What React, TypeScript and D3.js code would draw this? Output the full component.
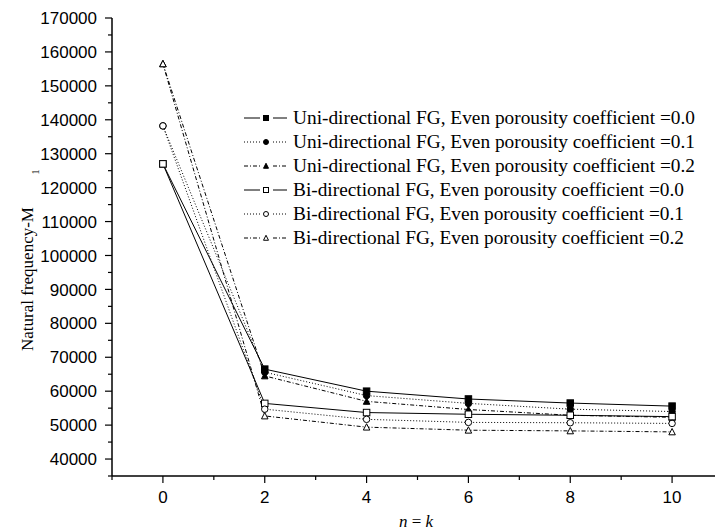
import React from "react";
import * as d3 from "d3";

const xs = [0, 2, 4, 6, 8, 10];
const uni00 = [127000, 66500, 60000, 57700, 56500, 55600];
const uni01 = [138200, 65600, 58700, 56400, 54700, 54000];
const uni02 = [156500, 64500, 57000, 54600, 52900, 52300];
const bi00 = [127000, 56400, 53700, 53200, 52900, 52500];
const bi01 = [138200, 54700, 51700, 50800, 50700, 50500];
const bi02 = [156500, 52700, 49400, 48500, 48300, 48000];

const legendLabels = [
  "Uni-directional FG, Even porousity coefficient =0.0",
  "Uni-directional FG, Even porousity coefficient =0.1",
  "Uni-directional FG, Even porousity coefficient =0.2",
  "Bi-directional FG, Even porousity coefficient =0.0",
  "Bi-directional FG, Even porousity coefficient =0.1",
  "Bi-directional FG, Even porousity coefficient =0.2",
];
const xTicks = [0, 2, 4, 6, 8, 10];
const yTicks = d3.range(40000, 170001, 10000);

type Series = { values: number[]; dash: string; marker: string; filled: boolean };
const series: Series[] = [
  { values: uni00, dash: "none", marker: "square", filled: true },
  { values: uni01, dash: "1,2", marker: "circle", filled: true },
  { values: uni02, dash: "4,2,1,2", marker: "triangle", filled: true },
  { values: bi00, dash: "none", marker: "square", filled: false },
  { values: bi01, dash: "1,2", marker: "circle", filled: false },
  { values: bi02, dash: "4,2,1,2", marker: "triangle", filled: false },
];

function Marker({ type, cx, cy, filled, s }: { type: string; cx: number; cy: number; filled: boolean; s: number }) {
  const fill = filled ? "#000" : "#fff";
  const props = { fill, stroke: "#000", strokeWidth: 1 };
  if (type === "square") return <rect x={cx - s / 2} y={cy - s / 2} width={s} height={s} {...props} />;
  if (type === "circle") return <circle cx={cx} cy={cy} r={s / 2} {...props} />;
  const h = s * 0.9;
  return <path d={`M${cx},${cy - h / 2 - 0.5}L${cx + s / 2},${cy + h / 2}L${cx - s / 2},${cy + h / 2}Z`} {...props} />;
}

export default function App() {
  const x = d3.scaleLinear().domain([-1, 11]).range([112, 723]);
  const y = d3.scaleLinear().domain([35000, 170000]).range([476, 18]);
  const line = d3
    .line<[number, number]>()
    .x((d) => x(d[0]))
    .y((d) => y(d[1]));
  const xMinor = d3.range(-1, 12, 2);
  const yMinor = d3.range(35000, 170000, 10000);
  const legendY = (i: number) => 118 + i * 24;

  return (
    <svg width={715} height={530} style={{ position: "absolute", left: 0, top: 0, background: "#fff" }}>
      <rect width={715} height={530} fill="#fff" />
      {/* axes */}
      <line x1={x(-1)} x2={x(-1)} y1={y(170000)} y2={y(35000)} stroke="#000" strokeWidth={1.5} />
      <line x1={x(-1)} x2={x(11)} y1={y(35000)} y2={y(35000)} stroke="#000" strokeWidth={1.5} />
      {yTicks.map((t) => (
        <g key={"y" + t}>
          <line x1={x(-1) - 7} x2={x(-1)} y1={y(t)} y2={y(t)} stroke="#000" strokeWidth={1.2} />
          <text x={x(-1) - 15} y={y(t)} dy="0.36em" textAnchor="end" fontFamily="Liberation Sans, Arial" fontSize={17}>
            {t}
          </text>
        </g>
      ))}
      {yMinor.map((t) => (
        <line key={"ym" + t} x1={x(-1) - 4} x2={x(-1)} y1={y(t)} y2={y(t)} stroke="#000" strokeWidth={1.2} />
      ))}
      {xTicks.map((t) => (
        <g key={"x" + t}>
          <line x1={x(t)} x2={x(t)} y1={y(35000)} y2={y(35000) + 7} stroke="#000" strokeWidth={1.2} />
          <text x={x(t)} y={497} dy="0.36em" textAnchor="middle" fontFamily="Liberation Sans, Arial" fontSize={17}>
            {t}
          </text>
        </g>
      ))}
      {xMinor.map((t) => (
        <line key={"xm" + t} x1={x(t)} x2={x(t)} y1={y(35000)} y2={y(35000) + 4} stroke="#000" strokeWidth={1.2} />
      ))}
      {/* axis titles */}
      <text x={416} y={521} dy="0.35em" textAnchor="middle" fontFamily="Liberation Serif, Times New Roman" fontSize={17}>
        <tspan fontStyle="italic">n</tspan> = <tspan fontStyle="italic">k</tspan>
      </text>
      <text
        transform="translate(27,279) rotate(-90)"
        textAnchor="middle"
        dy="0.35em"
        fontFamily="Liberation Serif, Times New Roman"
        fontSize={17}
      >
        Natural frequency-M
      </text>
      <text transform="translate(35,172) rotate(-90)" textAnchor="middle" dy="0.35em" fontFamily="Liberation Serif, Times New Roman" fontSize={10}>
        1
      </text>
      {/* series */}
      {series.map((s, i) => (
        <path
          key={"l" + i}
          d={line(xs.map((v, j) => [v, s.values[j]] as [number, number])) || ""}
          fill="none"
          stroke="#000"
          strokeWidth={1}
          strokeDasharray={s.dash}
        />
      ))}
      {series.map((s, i) => (
        <g key={"m" + i}>
          {xs.map((v, j) => (
            <Marker key={j} type={s.marker} cx={x(v)} cy={y(s.values[j])} filled={s.filled} s={6.5} />
          ))}
        </g>
      ))}
      {/* legend */}
      {series.map((s, i) => (
        <g key={"lg" + i}>
          <line x1={244} x2={260} y1={legendY(i)} y2={legendY(i)} stroke="#000" strokeWidth={1} strokeDasharray={s.dash} />
          <line x1={273} x2={287} y1={legendY(i)} y2={legendY(i)} stroke="#000" strokeWidth={1} strokeDasharray={s.dash} />
          <Marker type={s.marker} cx={266} cy={legendY(i)} filled={s.filled} s={5} />
          <text
            x={293}
            y={legendY(i)}
            dy="0.33em"
            fontFamily="Liberation Serif, Times New Roman"
            fontSize={18}
            textLength={i < 3 ? 402 : 391}
            lengthAdjust="spacingAndGlyphs"
          >
            {legendLabels[i]}
          </text>
        </g>
      ))}
    </svg>
  );
}
